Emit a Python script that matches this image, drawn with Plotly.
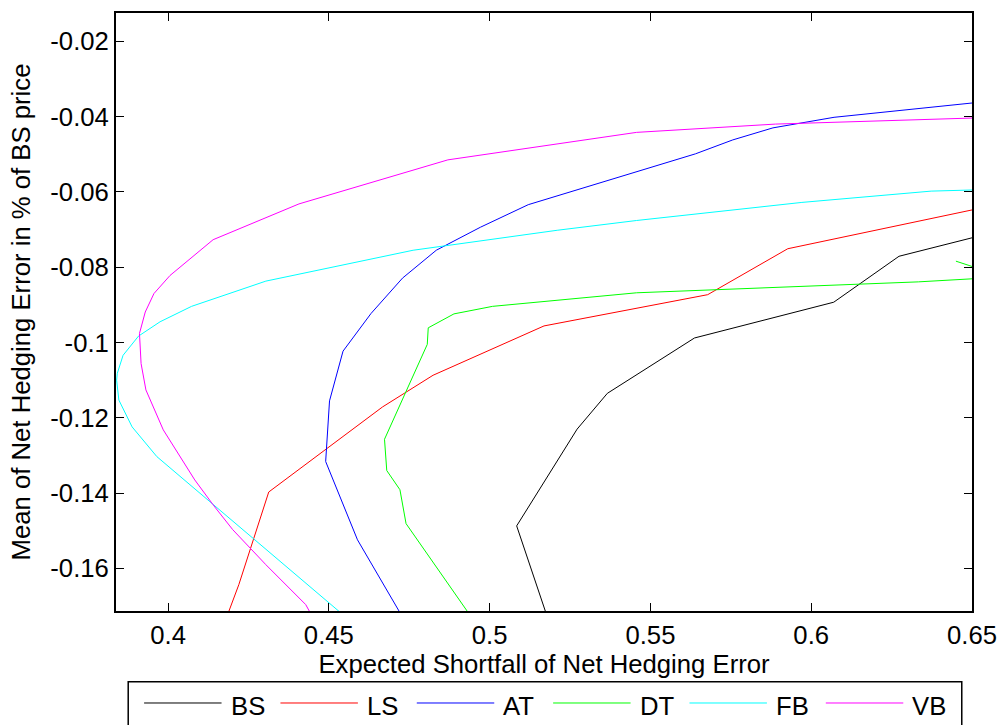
import plotly.graph_objects as go

# Efficient frontiers: expected shortfall vs. mean of net hedging error
series_names = ["BS", "LS", "AT", "DT", "FB", "VB"]
series_colors = ["#000000", "#FF0000", "#0000FF", "#00FF00", "#00FFFF", "#FF00FF"]

bs_x = [0.5203, 0.5084, 0.5272, 0.5366, 0.5637, 0.6070, 0.6273, 0.6500]
bs_y = [-0.1789, -0.1487, -0.1230, -0.1135, -0.0988, -0.0893, -0.0771, -0.0722]

ls_x = [0.4156, 0.4220, 0.4313, 0.4667, 0.4824, 0.5169, 0.5678, 0.5927, 0.6500]
ls_y = [-0.1789, -0.1643, -0.1397, -0.1171, -0.1087, -0.0956, -0.0873, -0.0751, -0.0648]

at_x = [0.4770, 0.4589, 0.4490, 0.4502, 0.4544, 0.4631, 0.4729, 0.4834, 0.4971,
        0.5120, 0.5640, 0.5756, 0.5881, 0.6071, 0.6500]
at_y = [-0.1789, -0.1524, -0.1316, -0.1155, -0.1023, -0.0923, -0.0829, -0.0755, -0.0694,
        -0.0634, -0.0499, -0.0462, -0.0430, -0.0402, -0.0364]

dt_x = [0.4992, 0.4740, 0.4721, 0.4680, 0.4673, 0.4806, 0.4809, 0.4889, 0.5009,
        0.5457, 0.6333, 0.6600, 0.6450]
dt_y = [-0.1789, -0.1481, -0.1391, -0.1340, -0.1257, -0.1005, -0.0961, -0.0924, -0.0904,
        -0.0868, -0.0839, -0.0826, -0.0784]

fb_x = [0.4635, 0.3965, 0.3888, 0.3847, 0.3840, 0.3842, 0.3860, 0.3908, 0.3975,
        0.4073, 0.4304, 0.4762, 0.5210, 0.5457, 0.5971, 0.6373, 0.6500]
fb_y = [-0.1789, -0.1303, -0.1224, -0.1153, -0.1100, -0.1082, -0.1034, -0.0983, -0.0945,
        -0.0904, -0.0837, -0.0755, -0.0702, -0.0676, -0.0628, -0.0598, -0.0595]

vb_x = [0.4488, 0.4428, 0.4304, 0.4201, 0.4140, 0.4083, 0.3985, 0.3931, 0.3916, 0.3911,
        0.3929, 0.3956, 0.4006, 0.4068, 0.4140, 0.4407, 0.4870, 0.5457, 0.5889, 0.6500]
vb_y = [-0.1789, -0.1696, -0.1590, -0.1497, -0.1431, -0.1365, -0.1232, -0.1126, -0.1056, -0.0976,
        -0.0919, -0.0870, -0.0822, -0.0777, -0.0727, -0.0632, -0.0515, -0.0442, -0.0420, -0.0404]

x_ticks = [0.4, 0.45, 0.5, 0.55, 0.6, 0.65]
x_tick_labels = ["0.4", "0.45", "0.5", "0.55", "0.6", "0.65"]
y_ticks = [-0.02, -0.04, -0.06, -0.08, -0.1, -0.12, -0.14, -0.16]
y_tick_labels = ["-0.02", "-0.04", "-0.06", "-0.08", "-0.1", "-0.12", "-0.14", "-0.16"]

series_x = [bs_x, ls_x, at_x, dt_x, fb_x, vb_x]
series_y = [bs_y, ls_y, at_y, dt_y, fb_y, vb_y]

FONT = "Liberation Sans, Arial, sans-serif"
FS = 25.7

# page / plot-area geometry (pixels)
W, H = 1008, 725
L, R, T, B = 116, 30, 11, 114
PW, PH = W - L - R, H - T - B


def px_x(p):
    return (p - L) / PW


def px_y(p):
    return (H - B - p) / PH


fig = go.Figure()
for name, color, xs, ys in zip(series_names, series_colors, series_x, series_y):
    fig.add_trace(go.Scatter(x=xs, y=ys, mode="lines", name=name,
                             line=dict(color=color, width=1), showlegend=False))

# legend box drawn below the axes, with long line samples
shapes = [dict(type="rect", xref="paper", yref="paper",
               x0=px_x(128.3), x1=px_x(967.7), y0=px_y(682), y1=px_y(760),
               line=dict(color="black", width=1.5), fillcolor="white", layer="above")]
annotations = []
for i, (name, color) in enumerate(zip(series_names, series_colors)):
    x0 = 144.3 + i * 137.3
    shapes.append(dict(type="line", xref="paper", yref="paper",
                       x0=px_x(x0), x1=px_x(x0 + 78), y0=px_y(703.3), y1=px_y(703.3),
                       line=dict(color=color, width=1)))
    annotations.append(dict(xref="paper", yref="paper", x=px_x(x0 + 85), y=px_y(706),
                            text=name, showarrow=False, xanchor="left", yanchor="middle",
                            font=dict(family=FONT, size=FS, color="black")))

axis_common = dict(showline=True, linecolor="black", linewidth=2, mirror="ticks",
                   ticks="inside", ticklen=8, tickwidth=1, tickcolor="black",
                   showgrid=False, zeroline=False,
                   tickfont=dict(family=FONT, size=FS, color="black"))

fig.update_layout(
    width=W, height=H,
    margin=dict(l=L, r=R, t=T, b=B),
    paper_bgcolor="white", plot_bgcolor="white",
    font=dict(family=FONT, size=FS, color="black"),
    xaxis=dict(range=[0.3838, 0.65], tickmode="array", tickvals=x_ticks,
               ticktext=x_tick_labels,
               title=dict(text="Expected Shortfall of Net Hedging Error",
                          font=dict(family=FONT, size=FS, color="black"), standoff=7),
               **axis_common),
    yaxis=dict(range=[-0.1713, -0.0125], tickmode="array", tickvals=y_ticks,
               ticktext=y_tick_labels,
               title=dict(text="Mean of Net Hedging Error in % of BS price",
                          font=dict(family=FONT, size=FS, color="black"), standoff=12),
               **axis_common),
    shapes=shapes,
    annotations=annotations,
)

fig.write_html("out.html")
